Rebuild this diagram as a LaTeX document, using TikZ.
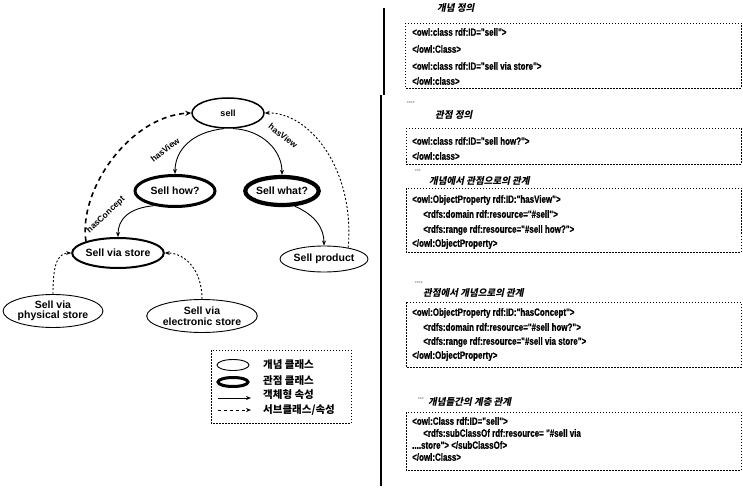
\documentclass[tikz,border=0pt]{standalone}
\usepackage{fontspec}
\setmainfont{Liberation Sans}
\newfontfamily\codefont[FakeStretch=0.76,FakeBold=0.6]{Liberation Sans}
\newfontfamily\krfont[FakeSlant=0.2]{Noto Sans CJK KR}
\newfontfamily\krplain{Noto Sans CJK KR}
\usetikzlibrary{arrows.meta,shapes.geometric}

\tikzset{
  cls/.style={ellipse, draw, inner sep=0pt, align=center,
    font=\bfseries\fontsize{10.5}{11.5}\selectfont},
  obj/.style={line width=0.9pt, -{Stealth[length=5pt,width=4pt]}},
  subdash/.style={line width=1.6pt, dash pattern=on 5pt off 4pt,
    -{Stealth[length=6pt,width=5pt]}},
  subdot/.style={line width=0.9pt, dash pattern=on 2pt off 2pt,
    -{Stealth[length=5pt,width=4pt]}},
  rel/.style={inner sep=0pt, font=\bfseries\fontsize{8.5}{10}\selectfont},
  codebox/.style={line width=0.8pt, dash pattern=on 1.5pt off 1.5pt},
  code/.style={anchor=west, inner sep=0pt, text height=7.5pt, text depth=2pt,
    font=\codefont\bfseries\fontsize{10.5}{12}\selectfont},
  head/.style={anchor=west, inner sep=0pt,
    font=\krfont\bfseries\fontsize{9.5}{10}\selectfont},
  ticks/.style={anchor=west, inner sep=0pt, font=\bfseries\fontsize{6}{6}\selectfont},
  legtext/.style={anchor=west, inner sep=0pt,
    font=\krplain\bfseries\fontsize{10.5}{11}\selectfont},
}

\begin{document}
\begin{tikzpicture}[x=1pt,y=-1pt]
\path[use as bounding box, fill=white] (0,0) rectangle (743,489);

% ---------------- ontology graph ----------------
\node[cls, line width=1.5pt, minimum width=72pt, minimum height=30pt, font=\bfseries\fontsize{9}{10}\selectfont] (sell) at (228,113) {sell};
\node[cls, line width=3pt, minimum width=80pt, minimum height=31pt] (how) at (175,191) {Sell how?};
\node[cls, line width=4.2pt, minimum width=73pt, minimum height=28pt] (what) at (282,191) {Sell what?};
\node[cls, line width=2pt, minimum width=90pt, minimum height=30pt] (store) at (118,253) {Sell via store};
\node[cls, line width=0.9pt, minimum width=88pt, minimum height=26pt] (product) at (324,259) {Sell product};
\node[cls, line width=0.9pt, minimum width=94pt, minimum height=33pt] (phys) at (53,311) {Sell via\\[-1pt]physical store};
\node[cls, line width=0.9pt, minimum width=108pt, minimum height=33pt] (elec) at (202,316) {Sell via\\[-1pt]electronic store};

% object properties
\draw[obj] (sell.255) .. controls (192,132) and (175,150) .. (how.north);
\draw[obj] (sell.288) .. controls (262,130) and (282,150) .. (what.north);
\draw[obj] (how.215) .. controls (128,208) and (118,220) .. (store.north);
\draw[obj] (what.310) .. controls (315,215) and (324,228) .. (product.north);

\node[rel, rotate=38] (lv1) at (165,150) {hasView};
\node[rel, rotate=-38] (lv2) at (283,136) {hasView};
\node[rel, rotate=43] (lc) at (106,215) {hasConcept};

% subclass links
\draw[subdash] (store.160) .. controls (78,190) and (130,116) .. (sell.west);
\draw[subdot] (product.25) .. controls (355,170) and (310,112) .. (sell.east);
\draw[subdot] (phys.north) .. controls (53,272) and (55,253) .. (store.west);
\draw[subdot] (elec.north) .. controls (202,270) and (185,253) .. (store.east);

% ---------------- legend ----------------
\draw[codebox] (211,350) rectangle (351,423);
\node[ellipse, draw, line width=0.9pt, inner sep=0pt, minimum width=32pt, minimum height=11pt] (lg1) at (233,365) {};
\node[ellipse, draw, line width=3pt, inner sep=0pt, minimum width=30pt, minimum height=9pt] (lg2) at (233,382) {};
\coordinate (la1) at (218,398); \coordinate (lb1) at (251,398);
\coordinate (la2) at (218,410); \coordinate (lb2) at (251,410);
\draw[obj] (la1) -- (lb1);
\draw[line width=0.9pt, dash pattern=on 3pt off 3pt, -{Stealth[length=5pt,width=4pt]}] (la2) -- (lb2);
\node[legtext] (lt1) at (263,365) {개념 클래스};
\node[legtext] (lt2) at (263,381) {관점 클래스};
\node[legtext] (lt3) at (263,395) {객체형 속성};
\node[legtext] (lt4) at (263,410) {서브클래스/속성};

% ---------------- separator ----------------
\draw[line width=2.2pt] (384,8) -- (384,95);
\draw[line width=1.6pt] (381,95) -- (381,486);

% ---------------- OWL listing ----------------
\node[head] (h1) at (437,8) {개념 정의};
\draw[codebox] (405,23) rectangle (741,88);
\node[code] (c11) at (412,33) {<owl:class rdf:ID="sell">};
\node[code] (c12) at (412,50) {</owl:Class>};
\node[code] (c13) at (412,67) {<owl:class rdf:ID="sell via store">};
\node[code] (c14) at (412,82) {</owl:class>};

\node[ticks] (t2) at (407,103) {····};
\node[head] (h2) at (435,115) {관점 정의};
\draw[codebox] (406,128) rectangle (741,164);
\node[code] (c21) at (412,142) {<owl:class rdf:ID="sell how?">};
\node[code] (c22) at (412,157) {</owl:class>};

\node[ticks] (t3) at (415,171) {···};
\node[head] (h3) at (429,181) {개념에서 관점으로의 관계};
\draw[codebox] (406,188) rectangle (741,252);
\node[code] (c31) at (412,200) {<owl:ObjectProperty rdf:ID:"hasView">};
\node[code] (c32) at (423,215) {<rdfs:domain rdf:resource="\#sell">};
\node[code] (c33) at (423,230) {<rdfs:range rdf:resource="\#sell how?">};
\node[code] (c34) at (412,244) {</owl:ObjectProperty>};

\node[ticks] (t4) at (415,283) {····};
\node[head] (h4) at (423,293) {관점에서 개념으로의 관계};
\draw[codebox] (406,302) rectangle (741,367);
\node[code] (c41) at (412,313) {<owl:ObjectProperty rdf:ID:"hasConcept">};
\node[code] (c42) at (423,328) {<rdfs:domain rdf:resource="\#sell how?">};
\node[code] (c43) at (423,342) {<rdfs:range rdf:resource="\#sell via store">};
\node[code] (c44) at (412,356) {</owl:ObjectProperty>};

\node[ticks] (t5) at (418,399) {···};
\node[head] (h5) at (428,402) {개념들간의 계층 관계};
\draw[codebox] (406,412) rectangle (741,470);
\node[code] (c51) at (412,422) {<owl:Class rdf:ID="sell">};
\node[code] (c52) at (423,434) {<rdfs:subClassOf rdf:resource= "\#sell via};
\node[code] (c53) at (412,446) {....store"> </subClassOf>};
\node[code] (c54) at (412,458) {</owl:Class>};
\end{tikzpicture}
\end{document}
